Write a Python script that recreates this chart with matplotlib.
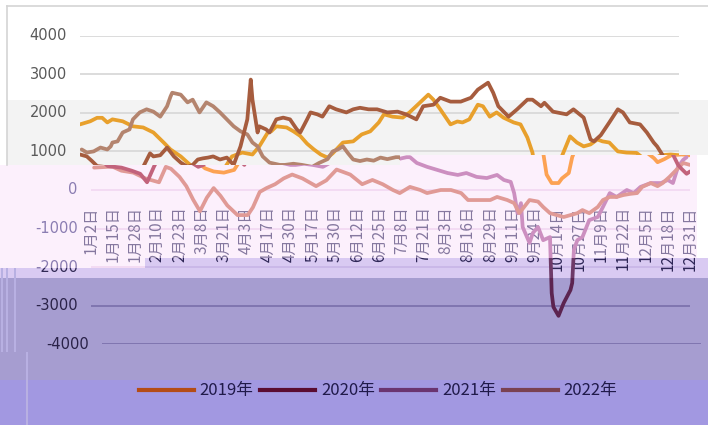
import matplotlib.pyplot as plt
from matplotlib.path import Path
from matplotlib.patches import Rectangle, PathPatch
from matplotlib.transforms import Bbox, TransformedBbox
from matplotlib.lines import Line2D

# ---- data (day index on a category axis, value) ----
tick_labels = ['1月2日', '1月15日', '1月28日', '2月10日', '2月23日', '3月8日', '3月21日',
               '4月3日', '4月17日', '4月30日', '5月17日', '5月30日', '6月12日', '6月25日',
               '7月8日', '7月21日', '8月3日', '8月16日', '8月29日', '9月11日', '9月24日',
               '10月14日', '10月27日', '11月9日', '11月22日', '12月5日', '12月18日', '12月31日']
y_ticks = [4000, 3000, 2000, 1000, 0, -1000, -2000, -3000, -4000]
years = ['2019年', '2020年', '2021年', '2022年']

day_2019 = [0, 6, 10, 13, 16, 19, 25, 31, 37, 43, 49, 53, 59, 63, 67, 72, 78, 84, 89, 92, 95,
            101, 105, 110, 112, 115, 121, 125, 129, 133, 137, 141, 145, 148, 154, 160, 165, 170,
            175, 178, 183, 189, 193, 199, 204, 207, 211, 217, 221, 224, 228, 233, 236, 240, 244,
            248, 254, 258, 262, 265, 267, 270, 274, 276, 280, 282, 287, 291, 295, 299, 303, 306,
            310, 315, 320, 326, 330, 332, 336, 340, 346, 351]
val_2019 = [1700, 1780, 1870, 1870, 1750, 1830, 1780, 1650, 1620, 1490, 1230, 1050, 870, 710,
            560, 480, 450, 520, 870, 920, 970, 920, 1130, 1490, 1520, 1650, 1620, 1520, 1400,
            1200, 1050, 920, 840, 950, 1230, 1260, 1440, 1520, 1750, 1960, 1900, 1875, 2010,
            2260, 2470, 2340, 2090, 1700, 1775, 1750, 1830, 2210, 2170, 1900, 2010, 1875, 1750,
            1700, 1360, 970, 400, 180, 180, 300, 440, 850, 1390, 1230, 1130, 1180, 1310, 1260,
            1230, 1000, 970, 960, 820, 720, 800, 900, 920, 900]

day_2020 = [1, 4, 8, 12, 16, 18, 19, 22, 25, 29, 31, 35, 39, 43, 47, 51, 53, 54, 59, 63, 66, 70,
            74, 78, 82, 86, 90, 94, 98, 101, 104, 107, 111, 117, 120, 125, 130, 136, 140, 145,
            148, 151, 154, 157, 160, 164, 168, 172, 176, 180, 185, 187, 191, 197, 203, 209, 215,
            220, 226, 232, 238, 242, 246, 248, 250, 252, 253, 257, 259, 262, 265, 269, 270, 271,
            274, 277, 281, 282, 283, 285, 288, 292, 297, 300, 304, 308, 314, 318, 322, 328, 334,
            338, 341, 344, 347, 349]
val_2020 = [1050, 970, 1000, 1100, 1050, 1130, 1230, 1260, 1490, 1570, 1830, 2010, 2090, 2030,
            1900, 2170, 2420, 2520, 2470, 2270, 2340, 2010, 2270, 2170, 2010, 1830, 1650, 1520,
            1440, 1230, 1130, 870, 710, 650, 650, 680, 650, 600, 700, 800, 1000, 1050, 1130, 950,
            790, 750, 790, 760, 840, 800, 850, 850, 700, 600, 520, 440, 390, 440, 340, 310, 390,
            260, 210, -80, -600, -340, -960, -1370, -1110, -960, -1300, -1220, -2670, -3030,
            -3260, -2930, -2590, -2410, -1550, -1300, -1220, -780, -700, -440, -80, -180, 0, -80,
            80, 180, 180, 260, 180, 600, 780, 850]

day_2021 = [2, 10, 13, 18, 25, 32, 40, 44, 47, 52, 56, 60, 64, 68, 72, 76, 80, 86, 92, 95, 99,
            103, 108, 113, 118, 124, 132, 138, 144, 152, 159, 165, 171, 177, 181, 187, 193, 197,
            205, 211, 217, 221, 227, 234, 238, 244, 248, 251, 257, 262, 265, 269, 273, 277, 281,
            285, 288, 292, 297, 300, 304, 308, 312, 316, 320, 323, 328, 332, 335, 339, 343, 347,
            351]
val_2021 = [580, 600, 600, 500, 450, 300, 200, 600, 550, 340, 100, -250, -550, -200, 50, -150,
            -400, -650, -650, -450, -50, 50, 150, 300, 400, 300, 100, 250, 530, 400, 150, 260,
            150, 0, -80, 80, 0, -80, 0, 0, -80, -260, -260, -260, -180, -260, -340, -600, -260,
            -300, -440, -600, -650, -700, -650, -600, -520, -600, -440, -260, -180, -180, -130,
            -100, -80, 80, 180, 100, 180, 340, 520, 700, 650]

day_2022 = [0, 4, 7, 10, 18, 24, 29, 33, 37, 41, 43, 47, 51, 55, 59, 63, 66, 69, 72, 75, 78, 82,
            86, 90, 94, 98, 100, 101, 104, 105, 109, 111, 115, 119, 123, 127, 129, 133, 135, 139,
            142, 146, 150, 156, 160, 164, 169, 174, 180, 186, 191, 197, 201, 207, 211, 217, 223,
            229, 233, 239, 242, 245, 251, 256, 262, 265, 270, 272, 277, 285, 289, 295, 299, 301,
            305, 310, 315, 318, 322, 328, 332, 336, 338, 341, 344, 346, 349, 351]
val_2022 = [920, 870, 750, 620, 580, 500, 420, 200, 600, 950, 870, 900, 1100, 870, 710, 600,
            650, 790, 820, 840, 870, 790, 840, 650, 1130, 1830, 2860, 2340, 1490, 1650, 1570,
            1490, 1830, 1875, 1830, 1570, 1490, 1830, 2010, 1960, 1900, 2170, 2090, 2010, 2090,
            2130, 2090, 2090, 2010, 2030, 1960, 1830, 2170, 2210, 2390, 2290, 2290, 2390, 2600,
            2780, 2520, 2170, 1900, 2090, 2340, 2340, 2170, 2260, 2030, 1960, 2090, 1875, 1310,
            1260, 1420, 1750, 2090, 2010, 1750, 1700, 1490, 1230, 1130, 920, 650, 550, 420, 480]

series = [(day_2019, val_2019), (day_2020, val_2020), (day_2021, val_2021), (day_2022, val_2022)]
legend_colors = ['#b44c16', '#5a0c32', '#6a3470', '#7a4252']

# ---- layout (pixels) ----
W, H = 708, 425
PLOT_L, PLOT_W = 90.7, 599.3
PLOT_T, PLOT_B = 35.6, 344.4
N_DAYS = 351
PX_PER_DAY = PLOT_W / N_DAYS
PX_PER_UNIT = (PLOT_B - PLOT_T) / 8000
ZERO_Y = PLOT_B - 4000 * PX_PER_UNIT


def fx(x):
    return x / W


def fy(y):
    return 1 - y / H


def b_top(x):
    return 165 if x < 400 else 155


def b_lav(x):
    return 268 if x < 145 else 258


STEPS = [0, 145, 400, W]

# horizontal colour bands of the picture; each band repaints the chart in its own tint
bands = [
    dict(up=lambda x: 0, lo=b_top, shift=-10.7, grid='#d9d9d9', text='#595959', xtext='#595959',
         lines=['#e8a02c', '#b4846e', '#c08a80', '#a65c3e']),
    dict(up=b_top, lo=b_lav, shift=0, grid='#f3d9f3', text='#8b7db2', xtext='#85789f',
         lines=['#fca253', '#cc8fc0', '#e09a96', '#c2637c']),
    dict(up=b_lav, lo=lambda x: 278, shift=0, grid='#c9b7e8', text='#322a55', xtext='#2e2656',
         lines=['#b06030', '#6e3a68', '#805070', '#805060']),
    dict(up=lambda x: 278, lo=lambda x: 335, shift=0, grid='#7c72ad', text='#2a2248',
         xtext='#2a2248', lines=['#9a5030', '#5c2450', '#6a3470', '#7a4252']),
    dict(up=lambda x: 335, lo=lambda x: 356, shift=11, grid='#7c72ad', text='#2a2248',
         xtext='#2a2248', lines=['#9a5030', '#5c2450', '#6a3470', '#7a4252']),
    dict(up=lambda x: 356, lo=lambda x: H, shift=0, grid='#7c72ad', text='#2a2248',
         xtext='#2a2248', lines=['#9a5030', '#5c2450', '#6a3470', '#7a4252']),
]


def band_path(up, lo, x_max=W):
    verts = []
    segs = [(a, min(b, x_max)) for a, b in zip(STEPS[:-1], STEPS[1:]) if a < x_max]
    for a, b in segs:
        m = (a + b) / 2
        verts += [(fx(a), fy(up(m))), (fx(b), fy(up(m)))]
    for a, b in reversed(segs):
        m = (a + b) / 2
        verts += [(fx(b), fy(lo(m))), (fx(a), fy(lo(m)))]
    verts.append(verts[0])
    return Path(verts, closed=True)


def text_clip(band, x_px):
    return TransformedBbox(Bbox([[0, fy(band['lo'](x_px))], [1, fy(band['up'](x_px))]]),
                           fig.transFigure)


def in_band(band, x_px, y0, y1):
    return band['up'](x_px) < y1 and band['lo'](x_px) > y0


def clipped_text(ax, band, x_px, *args, **kw):
    t = ax.text(*args, **kw)
    t.set_clip_path(None)
    t.set_clip_box(text_clip(band, x_px))
    t.set_clip_on(True)


def label_len(s):
    return sum(8.6 if c.isdigit() else 15.5 for c in s)


fig = plt.figure(figsize=(W / 100, H / 100), dpi=100)
fig.patch.set_facecolor('white')


def add_bg(x0, y0, x1, y1, color):
    fig.add_artist(Rectangle((fx(x0), fy(y1)), fx(x1) - fx(x0), fy(y0) - fy(y1),
                             transform=fig.transFigure, color=color, lw=0, zorder=-5))


# backgrounds
add_bg(7, 100, 400, 165, '#f3f3f3')
add_bg(400, 100, W, 155, '#f3f3f3')
fig.add_artist(Line2D([fx(7), 1], [fy(6), fy(6)], color='#d4d4d4', lw=1.2,
                     transform=fig.transFigure, zorder=-4))
fig.add_artist(Line2D([fx(7), fx(7)], [fy(6), fy(165)], color='#d4d4d4', lw=1.2,
                     transform=fig.transFigure, zorder=-4))
fig.add_artist(PathPatch(band_path(b_top, b_lav, 697), transform=fig.transFigure,
                         color='#fcf0fc', lw=0, zorder=-5))
fig.add_artist(PathPatch(band_path(b_lav, lambda x: 278), transform=fig.transFigure,
                         color='#d9caf2', lw=0, zorder=-5))
add_bg(0, 278, W, 380, '#a69dd0')
add_bg(0, 380, W, H, '#a298e1')
for s0, s1, t0, t1 in [(1, 3, 268, 352), (6, 8, 268, 352), (14, 16, 268, 352), (26, 28, 352, H)]:
    add_bg(s0, t0, s1, t1, '#b8b0e2')

for band in bands:
    left = PLOT_L + band['shift']
    ax = fig.add_axes([fx(left), fy(PLOT_B), PLOT_W / W, (PLOT_B - PLOT_T) / H])
    ax.set_xlim(0, N_DAYS)
    ax.set_ylim(-4000, 4000)
    ax.axis('off')
    clip = band_path(band['up'], band['lo'])

    for v in y_ticks:
        g = ax.axhline(v, color=band['grid'], lw=1.3, zorder=1)
        g.set_clip_path(clip, fig.transFigure)
        y_px = ZERO_Y - v * PX_PER_UNIT
        if in_band(band, 60, y_px - 8, y_px + 8):
            clipped_text(ax, band, 60, -7.6, v, str(v), ha='right', va='center',
                         fontsize=10.5, color=band['text'], family='DejaVu Sans')

    for k, lab in enumerate(tick_labels):
        x_px = left + 13 * k * PX_PER_DAY
        top = ZERO_Y + 420 * PX_PER_UNIT
        if in_band(band, x_px, top, top + label_len(lab)):
            clipped_text(ax, band, x_px, 13 * k, -420, lab, rotation=90, ha='center',
                         va='top', fontsize=11, color=band['xtext'],
                         family=['Noto Sans CJK SC', 'DejaVu Sans'])

    for (days, vals), col in zip(series, band['lines']):
        ln, = ax.plot(days, vals, color=col, lw=2.7, solid_joinstyle='round',
                      solid_capstyle='round', zorder=3)
        ln.set_clip_path(clip, fig.transFigure)

handles = [Line2D([0], [0], color=c, lw=3) for c in legend_colors]
leg = fig.legend(handles, years, loc='center', bbox_to_anchor=(fx(378), fy(391)), ncol=4,
                 frameon=False, handlelength=3.3, handletextpad=0.35, columnspacing=0.4,
                 prop={'family': ['Noto Sans CJK SC', 'DejaVu Sans'], 'size': 12})
for t in leg.get_texts():
    t.set_color('#201a4a')

fig.savefig('out.png', dpi=100)
